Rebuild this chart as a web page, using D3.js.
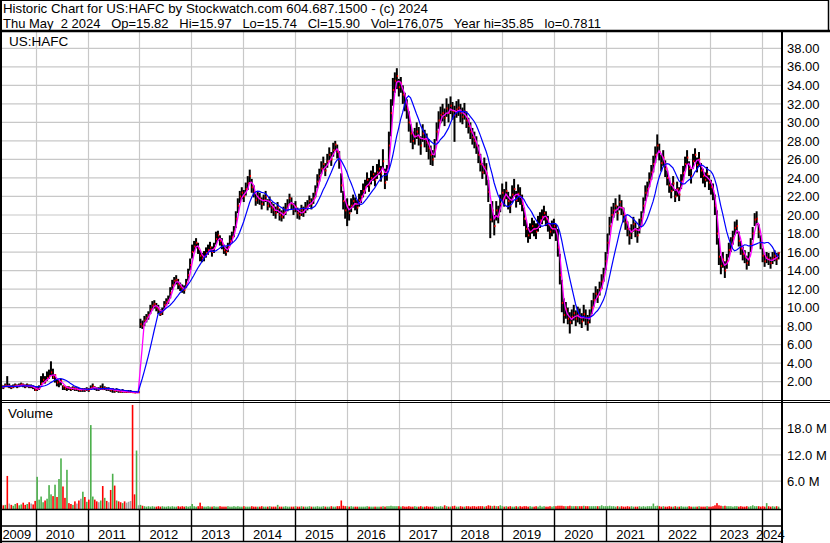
<!DOCTYPE html>
<html><head><meta charset="utf-8">
<script src="https://cdn.jsdelivr.net/npm/d3@7"></script>
<style>
body{margin:0;background:#fff}
svg{display:block}
text{font-family:"Liberation Sans",Arial,sans-serif;fill:#000;white-space:pre}
</style>
</head><body>
<svg id="c" width="830" height="543"></svg>
<script>
// ---------------- DATA ----------------
const symbol = "US:HAFC";
const headerLine1 = "Historic Chart for US:HAFC by Stockwatch.com 604.687.1500 - (c) 2024";
const headerLine2 = "Thu May  2 2024   Op=15.82   Hi=15.97   Lo=15.74   Cl=15.90   Vol=176,075   Year hi=35.85   lo=0.7811";
const firstBarDate = "2009-05-02";
const barStepDays = 14;   // one bar per two weeks
const closes = [
1.5,1.4,1.6,1.5,1.5,1.4,1.5,1.6,1.5,1.6,
1.7,1.6,1.5,1.6,1.5,1.5,1.4,1.1,1.2,1.3,
1.8,2.2,2.0,2.4,2.6,3.0,2.5,2.7,1.9,2.0,
2.1,1.5,1.3,1.4,1.3,1.2,1.3,1.2,1.2,1.1,
1.1,1.2,1.1,1.2,1.1,1.3,1.5,1.3,1.2,1.2,
1.3,1.2,1.3,1.2,1.2,1.1,1.2,1.0,1.1,1.0,
0.9,1.0,0.9,0.9,0.9,0.9,0.85,0.8,0.85,0.85,
8.2,8.0,8.6,8.9,9.2,9.8,10.2,10.4,10.0,9.8,
9.3,9.6,10.3,10.6,10.8,11.6,12.4,12.9,13.0,12.5,
12.2,12.0,11.9,12.6,13.5,14.6,16.0,16.6,17.0,16.4,
15.6,15.3,15.5,15.9,16.2,16.5,16.0,16.4,17.4,17.8,
17.2,16.9,16.2,16.0,16.5,17.2,17.6,18.2,19.6,21.0,
22.0,22.4,22.0,22.8,23.4,24.2,23.0,22.5,21.6,21.9,
21.8,21.2,21.6,22.0,21.0,21.4,20.8,20.5,20.2,20.8,
20.0,19.8,20.2,20.6,21.0,21.8,21.2,20.6,20.9,20.2,
20.0,20.5,20.3,20.8,21.0,21.5,21.2,21.8,22.4,23.6,
24.2,25.0,25.5,24.8,25.8,26.5,26.0,27.0,27.6,26.8,
26.0,23.2,21.5,20.5,21.0,20.2,21.0,21.5,21.2,20.8,
21.6,22.0,22.6,23.0,23.8,23.2,24.0,24.4,23.8,24.6,
25.0,24.5,25.8,23.5,24.5,27.5,31.0,33.5,34.5,35.0,
33.8,34.2,33.0,32.2,31.5,30.0,28.8,28.0,28.5,29.0,
28.4,27.5,28.8,28.2,27.8,27.2,26.5,26.0,27.0,29.0,
30.2,30.8,31.0,30.5,31.5,31.0,31.8,31.2,30.8,31.4,
31.6,31.0,30.6,31.2,30.2,29.6,29.0,28.4,28.0,27.5,
26.5,25.5,24.6,25.2,24.5,22.5,19.5,20.5,18.8,20.5,
20.0,21.2,22.4,21.8,22.6,21.5,21.0,22.2,22.8,21.6,
22.3,22.0,21.2,19.6,18.5,17.8,18.2,18.8,18.5,18.2,
19.0,19.4,19.8,20.2,19.6,19.0,18.2,18.5,18.8,18.2,
16.5,13.5,10.5,9.2,9.8,8.8,8.4,9.0,9.4,8.8,
9.2,9.0,8.5,9.3,8.9,8.4,9.0,10.0,10.8,11.5,
11.2,12.0,12.8,13.5,15.0,17.0,18.8,20.0,20.5,21.0,
20.2,21.4,20.8,20.0,19.2,18.5,17.8,18.2,19.0,18.4,
17.8,18.8,19.6,21.0,22.4,22.8,23.8,24.6,25.5,26.5,
27.5,26.8,25.6,26.2,25.0,24.0,23.2,22.6,23.4,22.0,
22.8,22.2,23.6,24.5,25.5,26.2,25.0,24.2,25.8,26.5,
25.4,26.0,24.8,24.2,23.8,24.4,23.5,23.0,22.6,21.0,
18.0,15.5,14.5,15.2,14.0,15.0,16.2,16.8,17.5,18.6,
18.8,17.2,16.4,15.8,15.5,14.8,15.2,16.8,18.0,19.5,
19.6,18.2,17.0,15.6,15.0,15.4,15.2,14.8,15.3,15.6,
15.2,15.9];
const highs = [
1.7,1.6,1.8,2.6,1.8,1.6,1.7,1.8,1.7,1.8,
1.9,1.8,1.7,1.8,1.7,1.7,1.6,1.4,1.4,1.6,
2.6,2.9,2.6,3.1,3.3,4.2,3.4,2.8,2.2,2.2,
2.3,1.6,1.5,1.5,1.5,1.4,1.5,1.4,1.4,1.3,
1.3,1.3,1.3,1.4,1.3,1.6,1.8,1.5,1.4,1.4,
1.6,1.8,1.5,1.4,1.4,1.3,1.3,1.2,1.3,1.2,
1.1,1.2,1.1,1.1,1.1,1.1,1.0,1.0,1.0,1.0,
8.8,8.6,9.1,9.3,9.6,10.3,10.7,10.8,10.5,10.3,
9.8,10.0,10.7,11.0,11.3,12.2,13.0,13.3,13.5,13.1,
12.7,12.5,12.4,13.1,14.2,15.3,16.8,17.2,17.5,17.0,
16.2,15.9,16.1,16.5,16.8,17.1,16.6,17.0,18.2,18.3,
17.8,17.5,16.8,16.6,17.0,17.8,18.2,18.8,20.4,21.8,
22.6,23.0,22.7,23.5,24.2,24.9,23.9,23.2,22.3,22.5,
22.4,21.9,22.2,22.6,21.7,22.0,21.4,21.2,20.9,21.4,
20.7,20.5,20.9,21.3,21.7,22.3,21.9,21.3,21.5,20.8,
20.6,21.1,20.9,21.4,21.6,22.1,21.8,22.4,23.2,24.4,
25.0,25.8,26.3,25.6,26.6,27.3,26.8,27.8,28.0,27.6,
26.9,24.5,22.6,21.5,21.8,21.0,21.8,22.2,21.9,21.6,
22.3,22.7,23.4,23.8,24.6,24.0,24.8,25.3,24.6,25.5,
26.0,25.3,27.1,25.0,25.4,29.0,32.5,34.8,35.4,35.85,
34.7,34.9,34.0,33.2,32.5,31.2,29.8,29.0,29.4,30.0,
29.5,28.5,29.8,29.2,28.8,28.2,27.5,27.0,28.2,30.0,
31.2,31.7,32.0,31.5,32.6,32.0,32.8,32.2,31.8,32.3,
32.5,32.0,31.6,32.1,31.2,30.5,30.0,29.4,29.0,28.5,
27.6,26.6,25.6,26.2,25.6,23.8,21.2,21.5,20.0,21.5,
21.0,22.2,23.4,22.8,23.6,22.5,22.0,23.2,23.9,22.6,
23.3,23.0,22.2,20.8,19.5,18.7,19.1,19.7,19.4,19.1,
19.9,20.3,20.6,21.0,20.4,19.9,19.1,19.4,19.6,19.0,
18.5,15.8,13.0,11.0,10.6,10.0,9.5,9.8,10.3,9.7,
10.1,9.9,9.4,10.3,9.8,9.2,9.8,10.8,11.6,12.3,
12.0,12.8,13.6,14.3,16.0,18.0,19.8,20.9,21.3,21.8,
21.0,22.2,21.6,20.8,20.0,19.3,18.6,19.0,19.8,19.2,
18.6,19.6,20.4,21.9,23.2,23.6,24.6,25.4,26.4,27.4,
28.7,27.7,26.5,27.0,25.9,24.8,24.0,23.4,24.2,22.8,
23.6,23.0,24.4,25.3,26.3,27.0,25.8,25.0,26.6,27.2,
26.2,26.8,25.6,25.0,24.6,25.2,24.3,23.8,23.4,22.2,
20.5,17.5,15.6,16.0,15.0,15.8,17.0,17.6,18.3,19.3,
19.5,18.2,17.2,16.6,16.2,15.6,16.0,17.5,18.7,20.2,
20.4,19.0,17.8,16.4,15.7,16.0,15.9,15.5,16.0,16.2,
15.9,15.97];
const lows = [
1.3,1.2,1.4,1.4,1.3,1.2,1.3,1.4,1.3,1.4,
1.5,1.4,1.3,1.4,1.3,1.3,1.2,1.0,1.0,1.1,
1.6,1.9,1.8,2.1,2.3,2.6,2.3,1.9,1.5,1.4,
1.6,1.1,1.1,1.0,1.1,1.0,1.1,1.0,1.0,0.9,
0.9,0.9,0.9,1.0,0.9,1.1,1.2,1.1,1.0,1.0,
1.1,1.1,1.1,1.0,1.0,0.9,0.8,0.8,0.9,0.8,
0.8,0.8,0.8,0.79,0.8,0.79,0.79,0.7811,0.79,0.8,
7.8,7.7,8.0,8.4,8.7,9.3,9.7,9.9,9.6,9.3,
9.1,9.2,9.8,10.2,10.4,11.0,11.9,12.3,12.5,12.0,
11.8,11.6,11.5,12.1,12.9,14.0,15.3,16.0,16.4,15.8,
15.0,14.9,15.0,15.4,15.7,16.0,15.5,15.9,16.8,17.2,
16.7,16.3,15.8,15.6,16.0,16.7,17.0,17.6,18.6,20.2,
21.3,21.7,21.4,22.1,22.7,23.5,22.4,21.9,21.0,21.2,
21.1,20.6,21.0,21.4,20.5,20.8,20.2,19.9,19.6,20.2,
19.4,19.3,19.6,20.0,20.4,21.2,20.6,20.0,20.3,19.6,
19.5,19.9,19.8,20.2,20.5,20.9,20.6,21.2,21.9,22.9,
23.6,24.4,24.9,24.2,25.1,25.9,25.3,26.3,26.9,26.1,
25.0,22.4,20.6,19.6,18.8,19.4,20.3,20.8,20.5,20.1,
20.9,21.3,21.9,22.3,23.0,22.5,23.3,23.7,23.1,23.9,
24.3,23.6,25.0,22.8,23.7,25.0,28.5,31.8,33.2,33.6,
32.8,33.2,32.0,31.2,30.4,29.0,27.8,27.1,27.6,28.2,
27.5,26.5,27.9,27.3,26.8,26.0,25.4,25.3,26.2,28.0,
29.3,29.9,30.1,29.6,30.6,30.0,30.9,30.3,27.9,30.5,
30.7,30.0,29.8,30.3,29.4,28.8,28.2,27.6,27.2,26.6,
25.6,24.7,23.9,24.4,23.2,21.4,17.5,19.2,17.8,19.4,
19.1,20.3,21.5,20.9,21.7,20.6,20.2,21.3,22.0,20.8,
21.4,21.1,20.4,18.8,17.6,17.0,17.4,18.0,17.7,17.4,
18.2,18.6,19.0,19.4,18.8,18.2,17.4,17.7,18.0,17.2,
15.5,12.5,9.5,8.3,8.8,8.2,7.2,8.2,8.6,8.0,
8.4,8.2,7.8,8.5,8.1,7.5,8.3,9.3,10.1,10.8,
10.5,11.3,12.0,12.8,14.0,15.8,17.8,19.1,19.7,20.2,
19.4,20.5,20.0,19.2,18.4,17.7,16.8,17.4,18.2,17.6,
17.0,18.0,18.8,20.2,21.5,22.0,23.0,23.8,24.6,25.6,
26.6,25.9,24.7,25.3,24.1,23.2,22.4,21.8,22.6,21.4,
22.0,21.5,22.8,23.7,24.7,25.4,24.2,23.4,25.0,25.7,
24.6,25.2,24.0,23.4,23.0,23.6,22.7,22.2,21.6,20.0,
16.8,14.6,13.6,14.3,13.2,14.2,15.4,16.0,16.8,17.8,
18.0,16.6,15.7,15.1,14.8,14.1,14.5,16.0,17.3,18.8,
18.9,17.5,16.3,14.9,14.4,14.8,14.6,14.2,14.7,15.0,
14.6,15.2];
const volumesM = [
0.8,0.5,0.6,7.2,0.9,0.6,0.4,0.8,1.0,0.5,
0.7,1.1,0.6,0.8,1.2,0.9,0.7,1.5,7.0,1.8,
2.5,1.2,1.6,2.0,5.1,3.0,2.6,5.2,2.4,6.5,
11.2,4.8,2.2,8.6,1.0,0.8,0.6,1.4,0.9,1.6,
2.0,3.6,2.4,1.3,1.8,18.8,2.5,1.8,1.4,1.2,
1.6,4.9,2.2,1.5,1.2,4.0,7.7,5.0,1.6,1.4,
1.2,1.0,1.4,1.1,1.3,1.5,23.4,3.0,13.0,0.5,
0.6,0.4,0.3,0.2,0.3,0.2,0.3,0.2,0.2,0.3,
0.2,0.3,0.2,0.2,0.3,0.2,0.3,0.2,0.2,0.3,
0.2,0.3,0.2,0.3,0.2,0.3,0.8,0.3,0.2,0.3,
1.1,0.3,0.2,0.2,0.3,0.2,0.2,0.3,0.2,0.2,
0.3,0.2,0.2,0.2,0.3,0.2,0.2,0.3,0.2,0.3,
0.2,0.2,0.3,0.2,0.2,0.2,0.3,0.2,0.2,0.2,
0.2,0.3,0.2,0.2,0.2,0.3,0.2,0.2,0.2,0.6,
0.2,0.2,0.2,0.3,0.2,0.2,0.2,0.2,0.3,0.2,
0.2,0.3,0.2,0.2,0.2,0.3,0.2,0.2,0.2,0.3,
0.2,0.2,0.3,0.2,0.2,0.2,0.3,0.2,0.2,0.3,
0.3,1.6,0.4,0.3,0.3,0.2,0.3,0.2,0.2,0.2,
0.2,0.2,0.2,0.2,0.3,0.2,0.2,0.2,0.2,0.2,
0.2,0.2,0.3,0.2,0.3,0.3,0.4,0.3,0.3,0.3,
0.3,0.2,0.3,0.2,0.2,0.3,0.2,0.2,0.3,0.2,
0.2,0.3,0.2,0.2,0.3,0.2,0.2,0.2,0.3,0.2,
0.2,0.3,0.2,0.5,0.3,0.2,0.2,0.3,0.4,0.2,
0.2,0.3,0.2,0.2,0.3,0.3,0.2,0.3,0.3,0.2,
0.3,0.3,0.3,0.2,0.3,0.5,0.4,0.3,0.4,0.3,
0.3,0.5,0.3,0.2,0.3,0.2,0.3,0.2,0.2,0.3,
0.2,0.3,0.2,0.3,0.3,0.2,0.3,0.2,0.2,0.3,
0.2,0.4,0.2,0.3,0.2,0.2,0.3,0.2,0.3,0.3,
0.4,0.4,0.4,0.3,0.3,0.3,0.4,0.3,0.3,0.3,
0.3,0.3,0.3,0.4,0.3,0.3,0.3,0.3,0.3,0.3,
0.3,0.3,0.5,0.3,0.3,0.3,0.4,0.3,0.3,0.2,
0.3,0.2,0.3,0.2,0.2,0.3,0.2,0.3,0.2,0.2,
0.2,0.3,0.2,0.3,0.2,0.3,0.3,0.3,0.9,0.3,
0.4,0.3,0.2,0.3,0.2,0.2,0.3,0.2,0.2,0.3,
0.2,0.2,0.3,0.2,0.2,0.2,0.3,0.2,0.2,0.2,
0.2,0.3,0.2,0.2,0.2,0.3,0.2,0.2,0.3,0.5,
1.0,0.5,0.4,0.3,0.4,0.3,0.3,0.3,0.2,0.3,
0.3,0.2,0.3,0.2,0.2,0.3,0.2,0.3,0.5,0.3,
0.3,0.3,0.2,0.3,0.2,1.0,0.3,0.2,0.3,0.2,
0.3,0.2];
const priceTicks = [2,4,6,8,10,12,14,16,18,20,22,24,26,28,30,32,34,36,38];
const volumeTicks = [6,12,18];
const years = [2009,2010,2011,2012,2013,2014,2015,2016,2017,2018,2019,2020,2021,2022,2023,2024];
const shortMAbars = 3;   // ~6 weeks
const longMAbars = 10;   // ~20 weeks

// ---------------- LAYOUT ----------------
const plotL = 1, plotR = 782;
const priceTop = 32, priceBot = 400;
const volTop = 403, volBot = 509;
const axisMid = 526, axisBot = 541.5;
const gridCol = "#c8c8c8";

const svg = d3.select("#c");
const parse = d3.timeParse("%Y-%m-%d");
const t0 = parse(firstBarDate);

const x = d3.scaleTime()
  .domain([new Date(2010,0,1), new Date(2024,0,1)])
  .range([35.7, 761.7]);
const y = d3.scaleLinear().domain([0,38]).range([400.2, 48.3]);
const yv = d3.scaleLinear().domain([0,24]).range([507.5, 402.3]);

const bars = closes.map((c,i)=>({
  date: d3.timeDay.offset(t0, i*barStepDays),
  c, h: highs[i], l: lows[i], v: volumesM[i],
  prev: i ? closes[i-1] : c
}));
function sma(n){
  return bars.map((b,i)=>{
    const s = closes.slice(Math.max(0,i-n+1), i+1);
    return {date:b.date, v:d3.mean(s)};
  });
}

// clip paths
const defs = svg.append("defs");
defs.append("clipPath").attr("id","pclip").append("rect")
  .attr("x",plotL).attr("y",priceTop).attr("width",plotR-plotL).attr("height",priceBot-priceTop);
defs.append("clipPath").attr("id","vclip").append("rect")
  .attr("x",plotL).attr("y",volTop).attr("width",plotR-plotL).attr("height",volBot-volTop);

// ---- gridlines ----
const yearStarts = years.slice(1).map(yr=>new Date(yr,0,1));
const grid = svg.append("g").attr("stroke",gridCol).attr("stroke-width",1.2);
grid.selectAll("line.v").data(yearStarts).join("line")
  .attr("x1",d=>Math.round(x(d))+0.5).attr("x2",d=>Math.round(x(d))+0.5)
  .attr("y1",priceTop).attr("y2",volBot);
grid.selectAll("line.hp").data(priceTicks).join("line")
  .attr("x1",plotL).attr("x2",plotR)
  .attr("y1",d=>y(d)).attr("y2",d=>y(d));
grid.selectAll("line.hv").data(volumeTicks).join("line")
  .attr("x1",plotL).attr("x2",plotR)
  .attr("y1",d=>yv(d)).attr("y2",d=>yv(d));

// ---- price bars ----
const pg = svg.append("g").attr("clip-path","url(#pclip)");
pg.selectAll("rect.hl").data(bars).join("rect")
  .attr("x",d=>x(d.date)-0.8).attr("width",2)
  .attr("y",d=>y(d.h)).attr("height",d=>Math.max(1,y(d.l)-y(d.h)))
  .attr("fill","#000");
pg.selectAll("rect.cl").data(bars).join("rect")
  .attr("x",d=>x(d.date)+0.2).attr("width",1.3)
  .attr("y",d=>y(d.c)-1).attr("height",2)
  .attr("fill","#ff0000");
const line = d3.line().x(d=>x(d.date)).y(d=>y(d.v));
pg.append("path").datum(sma(shortMAbars)).attr("d",line)
  .attr("fill","none").attr("stroke","#ff00ff").attr("stroke-width",1.3);
pg.append("path").datum(sma(longMAbars)).attr("d",line)
  .attr("fill","none").attr("stroke","#0000ff").attr("stroke-width",1.2);

// ---- volume bars ----
const vg = svg.append("g").attr("clip-path","url(#vclip)");
vg.selectAll("rect").data(bars).join("rect")
  .attr("x",d=>x(d.date)-0.5).attr("width",1.6)
  .attr("y",d=>yv(d.v)).attr("height",d=>volBot-yv(d.v))
  .attr("fill",d=>d.c>d.prev?"#4cb04c":(d.c<d.prev?"#ff0000":"#a0a0a0"));

// ---- frame lines ----
const frame = svg.append("g").attr("stroke","#000").attr("fill","none");
frame.append("line").attr("x1",0).attr("x2",830).attr("y1",31).attr("y2",31).attr("stroke-width",2.5);
frame.append("line").attr("x1",0).attr("x2",829).attr("y1",0.5).attr("y2",0.5).attr("stroke-width",1);
frame.append("line").attr("x1",828.5).attr("x2",828.5).attr("y1",0).attr("y2",31).attr("stroke-width",1.5);
frame.append("line").attr("x1",1).attr("x2",1).attr("y1",0).attr("y2",543).attr("stroke-width",2);
frame.append("line").attr("x1",plotR).attr("x2",plotR).attr("y1",31).attr("y2",543).attr("stroke-width",2);
frame.append("line").attr("x1",0).attr("x2",830).attr("y1",400.5).attr("y2",400.5).attr("stroke-width",1.2);
frame.append("line").attr("x1",0).attr("x2",830).attr("y1",402.5).attr("y2",402.5).attr("stroke-width",1.2);
frame.append("line").attr("x1",0).attr("x2",plotR).attr("y1",volBot+0.5).attr("y2",volBot+0.5).attr("stroke-width",1.6);
frame.append("line").attr("x1",0).attr("x2",plotR).attr("y1",axisMid).attr("y2",axisMid).attr("stroke-width",1.6);
frame.append("line").attr("x1",0).attr("x2",plotR).attr("y1",axisBot).attr("y2",axisBot).attr("stroke-width",1.6);
frame.selectAll("line.tk").data(yearStarts).join("line")
  .attr("x1",d=>Math.round(x(d))+0.5).attr("x2",d=>Math.round(x(d))+0.5)
  .attr("y1",volBot).attr("y2",axisBot).attr("stroke-width",1.4);

// ---- axes (right) ----
const pAxis = svg.append("g").attr("transform",`translate(${plotR},0)`)
  .call(d3.axisRight(y).tickValues(priceTicks).tickFormat(d3.format(".2f")).tickSize(0).tickPadding(5));
const vAxis = svg.append("g").attr("transform",`translate(${plotR},0)`)
  .call(d3.axisRight(yv).tickValues(volumeTicks).tickFormat(d=>d.toFixed(1)+" M").tickSize(0).tickPadding(5));
[pAxis,vAxis].forEach(g=>{
  g.select(".domain").remove();
  g.selectAll("text").attr("font-size",13).attr("font-family",'"Liberation Sans",Arial,sans-serif').attr("fill","#000");
});

// ---- year labels ----
svg.append("g").selectAll("text").data(years).join("text")
  .attr("x",yr=>{
    const a = Math.max(plotL, x(new Date(yr,0,1)));
    const b = Math.min(plotR, x(new Date(yr+1,0,1)));
    return (a+b)/2 - 1.5;
  })
  .attr("y",539).attr("text-anchor","middle").attr("font-size",13)
  .text(d=>String(d));

// ---- header and labels ----
svg.append("text").attr("x",3).attr("y",13).attr("font-size",13.5)
  .attr("textLength",425).attr("lengthAdjust","spacingAndGlyphs").text(headerLine1);
svg.append("text").attr("x",3).attr("y",27.5).attr("font-size",13.5)
  .attr("textLength",598).attr("lengthAdjust","spacingAndGlyphs").text(headerLine2);
svg.append("text").attr("x",9).attr("y",46).attr("font-size",13.5).text(symbol);
svg.append("text").attr("x",8).attr("y",418).attr("font-size",13.5).text("Volume");
</script>
</body></html>
